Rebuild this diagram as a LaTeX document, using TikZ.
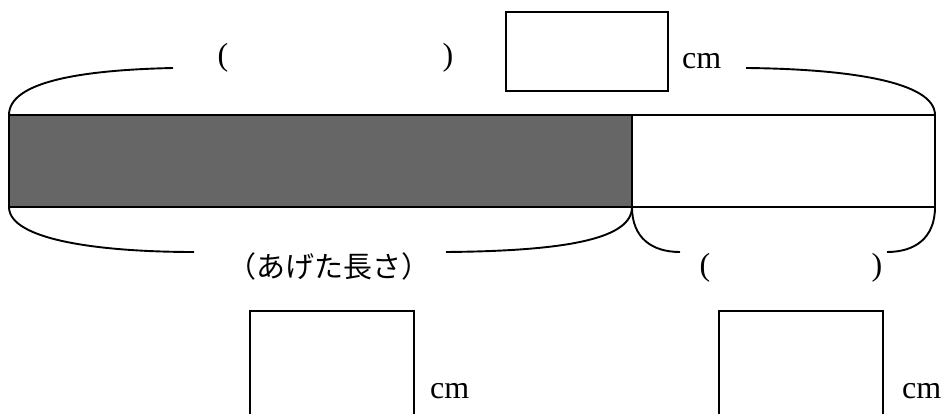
\documentclass[tikz,border=0pt]{standalone}
\usepackage{fontspec}
\setmainfont{Liberation Serif}
\newfontfamily\jpfont{Noto Sans CJK JP}
\begin{document}
\begin{tikzpicture}[x=1pt,y=-1pt,
  ln/.style={line width=1.9pt},
  ansbox/.style={draw,line width=1.9pt,minimum width=164pt,minimum height=79pt,inner sep=0pt,anchor=north west},
  lbl/.style={inner sep=0pt,font=\fontsize{32}{34}\selectfont},
  jlbl/.style={inner sep=0pt,font=\jpfont\fontsize{29}{31}\selectfont}]
\clip (0,0) rectangle (943,414);
% bar
\coordinate (tl) at (9,115);
\coordinate (tm) at (632,115);
\coordinate (tr) at (935,115);
\coordinate (bl) at (9,207);
\coordinate (bm) at (632,207);
\coordinate (br) at (935,207);
\fill[black!60] (tl) rectangle (bm);
\draw[ln] (tl) -- (tr) -- (br) -- (bl) -- cycle;
\draw[ln] (tm) -- (bm);
% top brace
\coordinate (tb1) at (173,68);
\coordinate (tb2) at (746,68);
\draw[ln] (tl) .. controls (9,82) and (80,70) .. (tb1);
\draw[ln] (tb2) .. controls (850,69) and (935,82) .. (tr);
% top labels
\node[lbl] (tpo) at (223,58) {(};
\node[lbl] (tpc) at (448,58) {)};
\node[ansbox,minimum width=162pt] (tbox) at (505,11) {};
\node[lbl,anchor=base west] (tcm) at (682,69) {cm};
% bottom left brace
\coordinate (lb1) at (194,252);
\coordinate (lb2) at (446,252);
\draw[ln] (bl) .. controls (9,240) and (100,252) .. (lb1);
\draw[ln] (lb2) .. controls (570,251) and (632,238) .. (bm);
\node[jlbl] (jtxt) at (329,266) {（あげた長さ）};
% bottom right brace
\coordinate (rb1) at (680,252);
\coordinate (rb2) at (887,252);
\draw[ln] (bm) .. controls (632,238) and (652,252) .. (rb1);
\draw[ln] (rb2) .. controls (915,252) and (935,238) .. (br);
\node[lbl] (bpo) at (705,268) {(};
\node[lbl] (bpc) at (877,268) {)};
% bottom answer boxes
\node[ansbox,minimum height=120pt] (lbox) at (249,310) {};
\node[lbl,anchor=base west] (lcm) at (430,398) {cm};
\node[ansbox,minimum height=120pt] (rbox) at (718,310) {};
\node[lbl,anchor=base west] (rcm) at (902,398) {cm};
\end{tikzpicture}
\end{document}
